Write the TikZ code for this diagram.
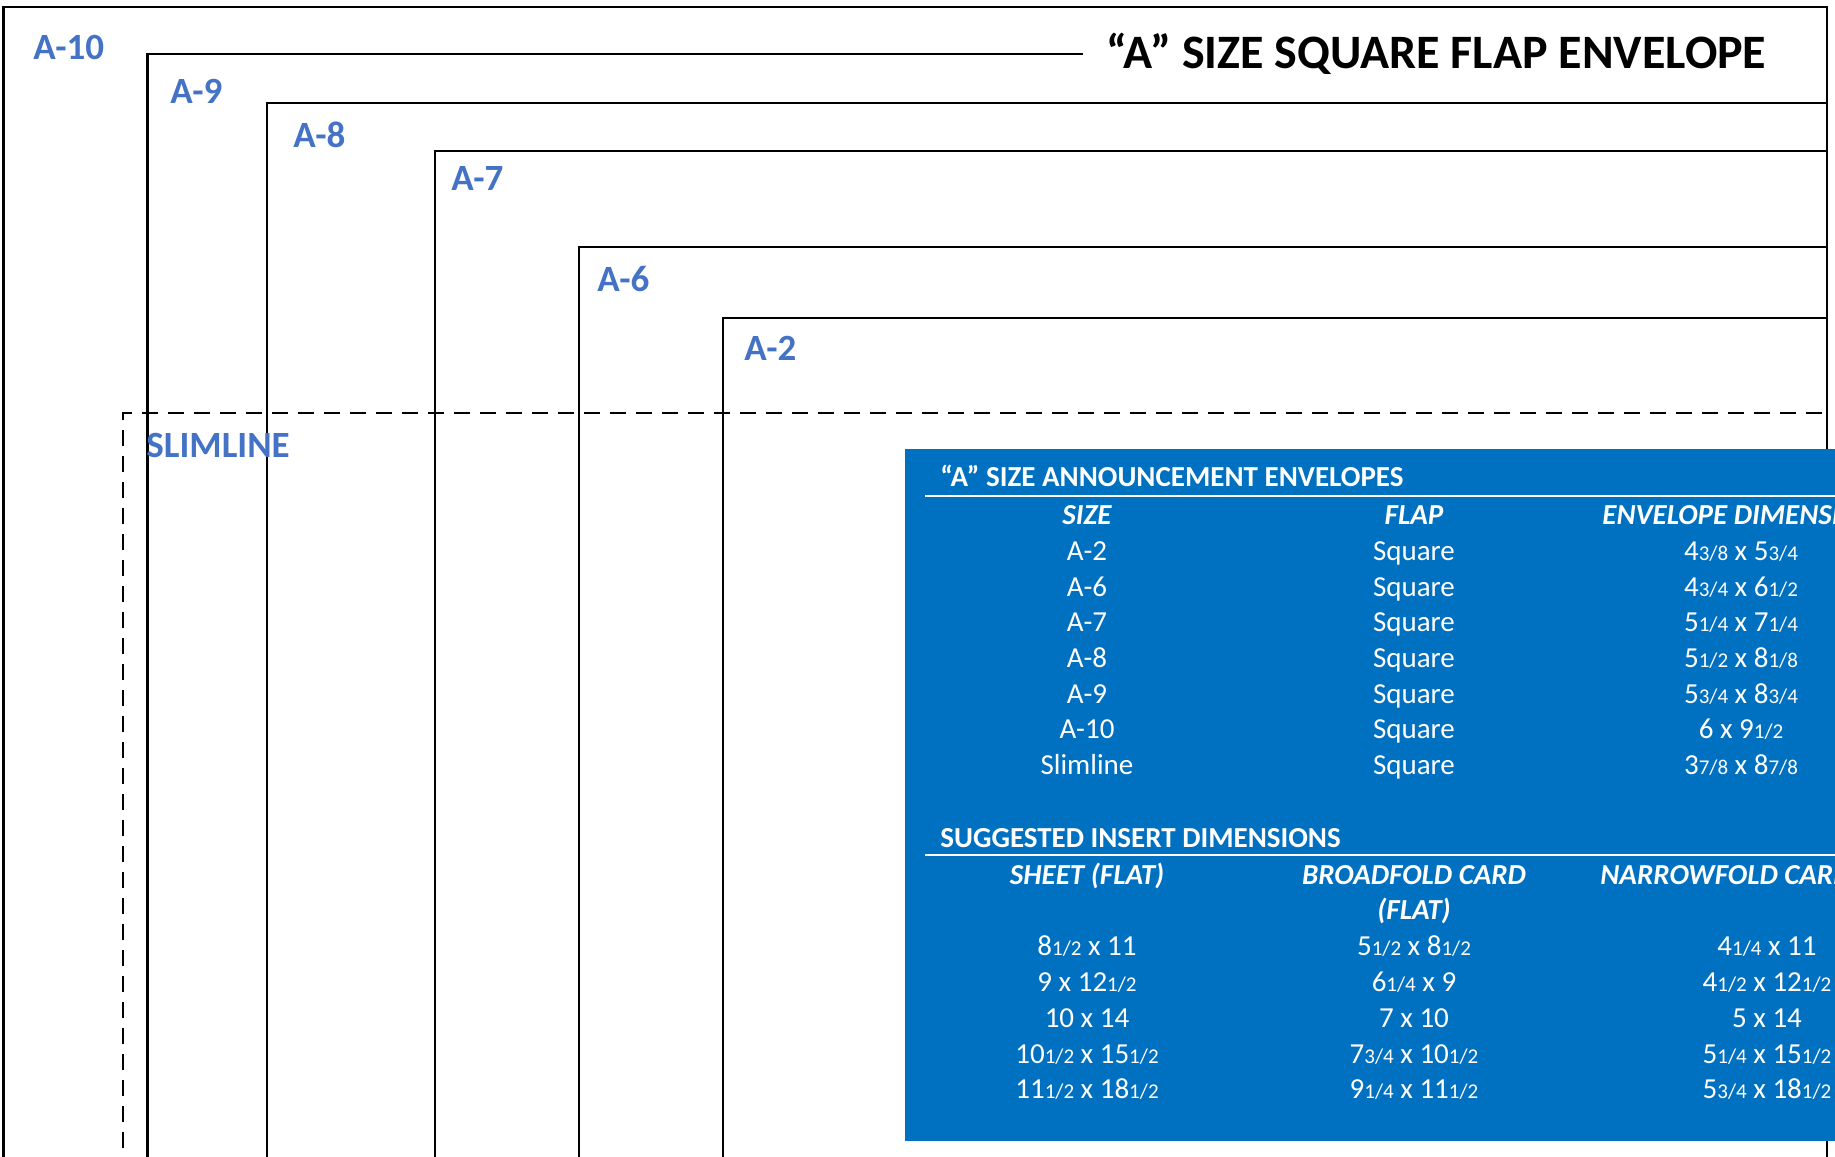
\documentclass[tikz,border=0pt]{standalone}
\usepackage{fontspec}
\setmainfont{Carlito}
\usetikzlibrary{positioning}
\definecolor{labelblue}{HTML}{4472C4}
\definecolor{boxblue}{HTML}{0070C0}
\newcommand{\fr}[2]{{\fontsize{10.5}{10.5}\selectfont#1/#2}}
\tikzset{
  env/.style={line width=1.3pt},
  envlabel/.style={anchor=base west, inner sep=0pt, text=labelblue, font=\fontsize{18.5}{20}\selectfont\bfseries},
  tabhead/.style={anchor=base west, inner sep=0pt, text=white, font=\fontsize{14.5}{16}\selectfont\bfseries},
  colhead/.style={anchor=base, inner sep=0pt, text=white, font=\fontsize{14.5}{16}\selectfont\bfseries\itshape},
  cell/.style={anchor=base, inner sep=0pt, text=white, font=\fontsize{14.5}{16}\selectfont},
}
\begin{document}
\begin{tikzpicture}[x=0.5pt, y=-0.5pt]

			\useasboundingbox (0,0) rectangle (1835,1156);
			\clip (0,0) rectangle (1835,1156);

			\draw [env] (3.5,1200) |- (1827,7) -- (1827,1200);
			\draw [env] (147.5,1200) |- (1083,54);
			\draw [env] (267,1200) |- (1827,103);
			\draw [env] (435,1200) |- (1827,151);
			\draw [env] (579,1200) |- (1827,247);
			\draw [env] (723,1200) |- (1827,318);
			\draw [env, dash pattern=on 8pt off 5pt] (123,1200) |- (1827,413);

			\node (title) [anchor=base west, inner sep=0pt, font=\fontsize{24}{26}\selectfont\bfseries] at (1106,69) {“A” SIZE SQUARE FLAP ENVELOPE};
			\node (a10) [envlabel] at (33,60) {A-10};
			\node (a9) [envlabel] at (170,104) {A-9};
			\node (a8) [envlabel] at (293,148) {A-8};
			\node (a7) [envlabel] at (451,190) {A-7};
			\node (a6) [envlabel] at (597,291) {A-6};
			\node (a2) [envlabel] at (744,360) {A-2};
			\node (slim) [envlabel] at (146,457) {SLIMLINE};

			\fill [boxblue] (905,449) rectangle (1840,1141);
			\draw [white, line width=1pt] (925,496) -- (1840,496);
			\draw [white, line width=1pt] (925,855) -- (1840,855);

			\node (annc) [tabhead] at (940,486) {“A” SIZE ANNOUNCEMENT ENVELOPES};
			\node (hsize) [colhead] at (1087,524) {SIZE};
			\node (hflap) [colhead] at (1414,524) {FLAP};
			\node (hdim) [colhead, anchor=base west] at (1602,524) {ENVELOPE DIMENSIONS};

			\node (s1) [cell] at (1087,560) {A-2};      \node (f1) [cell] at (1414,560) {Square};  \node (d1) [cell] at (1741,560) {4\fr38 x 5\fr34};
			\node (s2) [cell] at (1087,596) {A-6};      \node (f2) [cell] at (1414,596) {Square};  \node (d2) [cell] at (1741,596) {4\fr34 x 6\fr12};
			\node (s3) [cell] at (1087,631) {A-7};      \node (f3) [cell] at (1414,631) {Square};  \node (d3) [cell] at (1741,631) {5\fr14 x 7\fr14};
			\node (s4) [cell] at (1087,667) {A-8};      \node (f4) [cell] at (1414,667) {Square};  \node (d4) [cell] at (1741,667) {5\fr12 x 8\fr18};
			\node (s5) [cell] at (1087,703) {A-9};      \node (f5) [cell] at (1414,703) {Square};  \node (d5) [cell] at (1741,703) {5\fr34 x 8\fr34};
			\node (s6) [cell] at (1087,738) {A-10};     \node (f6) [cell] at (1414,738) {Square};  \node (d6) [cell] at (1741,738) {6 x 9\fr12};
			\node (s7) [cell] at (1087,774) {Slimline}; \node (f7) [cell] at (1414,774) {Square};  \node (d7) [cell] at (1741,774) {3\fr78 x 8\fr78};

			\node (insert) [tabhead] at (940,847) {SUGGESTED INSERT DIMENSIONS};
			\node (hsheet) [colhead] at (1087,884) {SHEET (FLAT)};
			\node (hbroad) [colhead] at (1414,884) {BROADFOLD CARD};
			\node (hbroad2) [colhead] at (1414,919) {(FLAT)};
			\node (hnarrow) [colhead, anchor=base west] at (1600,884) {NARROWFOLD CARD};

			\node (sh1) [cell] at (1087,955) {8\fr12 x 11};         \node (bf1) [cell] at (1414,955) {5\fr12 x 8\fr12};    \node (nf1) [cell] at (1767,955) {4\fr14 x 11};
			\node (sh2) [cell] at (1087,991) {9 x 12\fr12};         \node (bf2) [cell] at (1414,991) {6\fr14 x 9};         \node (nf2) [cell] at (1767,991) {4\fr12 x 12\fr12};
			\node (sh3) [cell] at (1087,1027) {10 x 14};            \node (bf3) [cell] at (1414,1027) {7 x 10};            \node (nf3) [cell] at (1767,1027) {5 x 14};
			\node (sh4) [cell] at (1087,1063) {10\fr12 x 15\fr12};  \node (bf4) [cell] at (1414,1063) {7\fr34 x 10\fr12};  \node (nf4) [cell] at (1767,1063) {5\fr14 x 15\fr12};
			\node (sh5) [cell] at (1087,1098) {11\fr12 x 18\fr12};  \node (bf5) [cell] at (1414,1098) {9\fr14 x 11\fr12};  \node (nf5) [cell] at (1767,1098) {5\fr34 x 18\fr12};

			\end{tikzpicture}
\end{document}
